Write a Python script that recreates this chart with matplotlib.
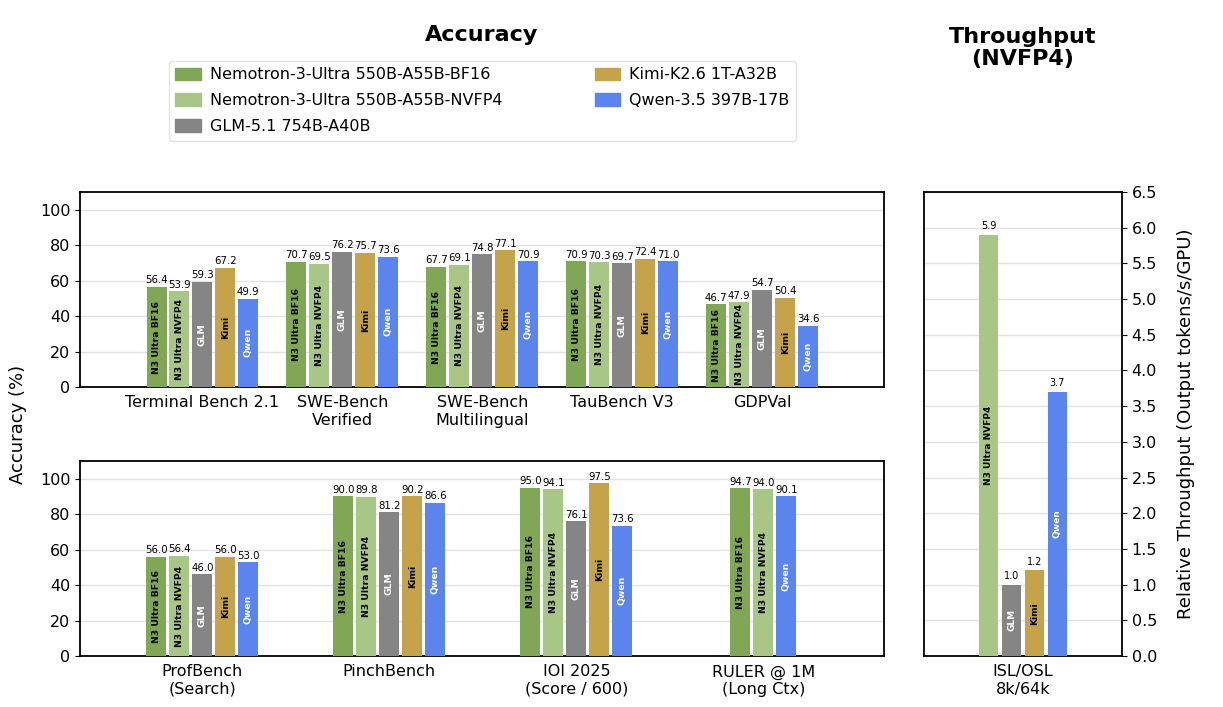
import numpy as np
import matplotlib
matplotlib.use('Agg')
import matplotlib.pyplot as plt
from matplotlib.patches import Patch

# models
models = ['Nemotron-3-Ultra 550B-A55B-BF16', 'Nemotron-3-Ultra 550B-A55B-NVFP4',
          'GLM-5.1 754B-A40B', 'Kimi-K2.6 1T-A32B', 'Qwen-3.5 397B-17B']
short_names = ['N3 Ultra BF16', 'N3 Ultra NVFP4', 'GLM', 'Kimi', 'Qwen']
colors = ['#80a756', '#a8c686', '#858585', '#c4a34a', '#5b84ec']
inner_text_colors = ['black', 'black', 'white', 'black', 'white']

# top row of benchmarks
top_benchmarks = ['Terminal Bench 2.1', 'SWE-Bench\nVerified', 'SWE-Bench\nMultilingual',
                  'TauBench V3', 'GDPVal']
top_bf16 = [56.4, 70.7, 67.7, 70.9, 46.7]
top_nvfp4 = [53.9, 69.5, 69.1, 70.3, 47.9]
top_glm = [59.3, 76.2, 74.8, 69.7, 54.7]
top_kimi = [67.2, 75.7, 77.1, 72.4, 50.4]
top_qwen = [49.9, 73.6, 70.9, 71.0, 34.6]

# bottom row of benchmarks (None = not reported)
bot_benchmarks = ['ProfBench\n(Search)', 'PinchBench', 'IOI 2025\n(Score / 600)',
                  'RULER @ 1M\n(Long Ctx)']
bot_bf16 = [56.0, 90.0, 95.0, 94.7]
bot_nvfp4 = [56.4, 89.8, 94.1, 94.0]
bot_glm = [46.0, 81.2, 76.1, None]
bot_kimi = [56.0, 90.2, 97.5, None]
bot_qwen = [53.0, 86.6, 73.6, 90.1]

# throughput, relative to GLM
tp_label = 'ISL/OSL\n8k/64k'
tp_values = [None, 5.9, 1.0, 1.2, 3.7]


def draw_groups(ax, labels, series, pitch, width, val_fs, inner_fs, fmt='{:.1f}'):
    for g in range(len(labels)):
        # only the models with a value get a slot, centred on the group
        present = [i for i in range(len(series)) if series[i][g] is not None]
        n = len(present)
        for k, i in enumerate(present):
            v = series[i][g]
            x = g + (k - (n - 1) / 2) * pitch
            ax.bar(x, v, width=width, color=colors[i], zorder=3)
            ax.text(x, v + ax.get_ylim()[1] * 0.008, fmt.format(v), ha='center', va='bottom',
                    fontsize=val_fs, zorder=4)
            ax.text(x, v / 2, short_names[i], ha='center', va='center', rotation=90,
                    fontsize=inner_fs, fontweight='bold', color=inner_text_colors[i], zorder=4)
    ax.set_xticks(range(len(labels)))
    ax.set_xticklabels(labels, fontsize=11.5)
    ax.tick_params(axis='x', length=0, pad=6)
    ax.tick_params(axis='y', labelsize=11.5)
    ax.grid(axis='y', color='#e2e2e2', linewidth=1, zorder=0)
    for s in ax.spines.values():
        s.set_linewidth(1.3)


fig = plt.figure(figsize=(12.23, 7.07), dpi=100)

ax_top = fig.add_axes([0.0654, 0.4526, 0.6574, 0.2758])
ax_top.set_ylim(0, 110)
ax_top.set_xlim(-0.875, 4.87)
ax_top.set_yticks(range(0, 101, 20))
draw_groups(ax_top, top_benchmarks, [top_bf16, top_nvfp4, top_glm, top_kimi, top_qwen],
            pitch=0.164, width=0.143, val_fs=7.3, inner_fs=6.7)

ax_bot = fig.add_axes([0.0654, 0.0721, 0.6574, 0.2758])
ax_bot.set_ylim(0, 110)
ax_bot.set_xlim(-0.655, 3.645)
ax_bot.set_yticks(range(0, 101, 20))
draw_groups(ax_bot, bot_benchmarks, [bot_bf16, bot_nvfp4, bot_glm, bot_kimi, bot_qwen],
            pitch=0.123, width=0.107, val_fs=7.3, inner_fs=6.7)

ax_tp = fig.add_axes([0.7555, 0.0721, 0.1619, 0.6563])
ax_tp.set_ylim(0, 6.5)
ax_tp.set_xlim(-0.5, 0.5)
ax_tp.set_yticks(np.arange(0, 6.51, 0.5))
draw_groups(ax_tp, [tp_label], [[v] for v in tp_values],
            pitch=0.115, width=0.096, val_fs=7, inner_fs=6.5)
ax_tp.yaxis.tick_right()
ax_tp.yaxis.set_label_position('right')
ax_tp.set_ylabel('Relative Throughput (Output tokens/s/GPU)', fontsize=13, labelpad=14)

fig.text(0.015, 0.4003, 'Accuracy (%)', rotation=90, ha='center', va='center', fontsize=13)
fig.text(0.394, 0.95, 'Accuracy', ha='center', va='center', fontsize=16, fontweight='bold')
fig.text(0.836, 0.932, 'Throughput\n(NVFP4)', ha='center', va='center', fontsize=16,
         fontweight='bold', linespacing=1.1)

handles = [Patch(color=c, label=m) for c, m in zip(colors, models)]
fig.legend(handles=handles, loc='upper center', bbox_to_anchor=(0.3945, 0.925), ncol=2,
           fontsize=11.5, frameon=True, handlelength=1.6, handleheight=0.85,
           handletextpad=0.55, labelspacing=0.68, columnspacing=5.8,
           edgecolor='#dddddd')

fig.savefig('out.png', dpi=100)
